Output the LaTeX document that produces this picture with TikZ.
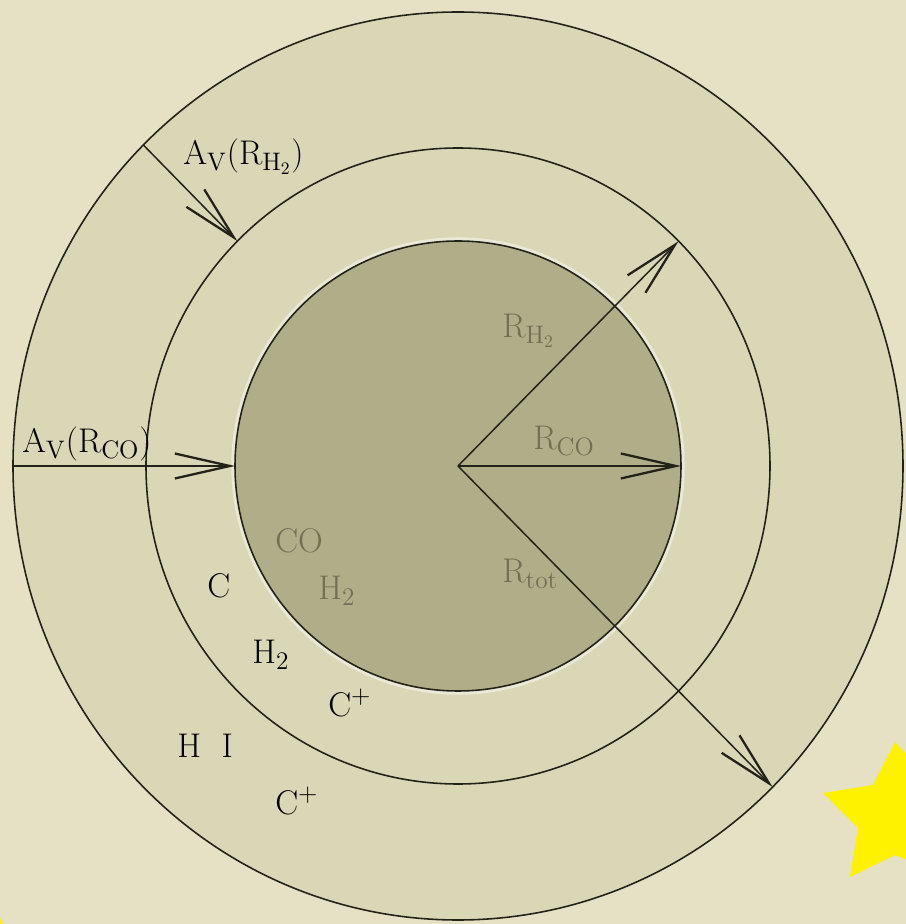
\documentclass[tikz,border=0pt]{standalone}
\usepackage{amsmath}
\usetikzlibrary{arrows.meta, calc}
\definecolor{fondo}{RGB}{230,224,196}
\definecolor{anillo}{RGB}{217,215,182}
\definecolor{nucleo}{RGB}{176,174,136}
\definecolor{tinta}{RGB}{34,34,24}
\definecolor{gris}{RGB}{112,112,84}

\begin{document}
\begin{tikzpicture}[x=0.02cm, y=0.02cm,
    borde/.style={tinta, line width=0.9pt},
    flecha/.style={tinta, line width=0.85pt,
        -{Straight Barb[length=1.1cm, width=0.5cm, line width=1.3pt]}},
    etiq/.style={anchor=base west, inner sep=0pt, font=\fontsize{19.5}{23}\selectfont},
]
    \useasboundingbox (0,0) rectangle (906,924);
    \clip (0,0) rectangle (906,924);
    \fill[fondo] (0,0) rectangle (906,924);
    % Estrellas
    \fill[yellow] (895,182) -- (873,139) -- (823,131) -- (858,96) -- (850,47)
        -- (895,69) -- (955,44) -- (940,94) -- (990,129) -- (935,139) -- cycle;
    \fill[yellow] (-8,-8) -- (4,-2) -- (0,6) -- cycle;
    % Capas de la nube
    \coordinate (c) at (458,458);
    \filldraw[borde, fill=anillo] (c) ellipse [x radius=445, y radius=454];
    \filldraw[borde, fill=anillo] (c) ellipse [x radius=312, y radius=318];
    \draw[white!45!anillo, line width=2pt] (c) ellipse [x radius=225, y radius=227];
    \filldraw[borde, fill=nucleo] (c) ellipse [x radius=223, y radius=225];
    % Puntos sobre los bordes
    \coordinate (ext135) at ($(c)+(135:445 and 454)$);
    \coordinate (med135) at ($(c)+(135:312 and 318)$);
    \coordinate (med45)  at ($(c)+(45:312 and 318)$);
    \coordinate (ext180) at ($(c)+(180:445 and 454)$);
    \coordinate (nuc180) at ($(c)+(180:223 and 225)$);
    \coordinate (nuc0)   at ($(c)+(0:223 and 225)$);
    \coordinate (ext315) at ($(c)+(-45:445 and 454)$);
    % Flechas
    \draw[flecha] (ext135) -- (med135);
    \draw[flecha] (ext180) -- (nuc180);
    \draw[flecha] (c) -- (med45);
    \draw[flecha] (c) -- (nuc0);
    \draw[flecha] (c) -- (ext315);
    % Etiquetas
    \node[etiq] (avhdos) at (183,759) {A$_{\mathrm{V}}$(R$_{\mathrm{H_2}}$)};
    \node[etiq] (avco)   at (22,471)  {A$_{\mathrm{V}}$(R$_{\mathrm{CO}}$)};
    \node[etiq, gris] (rhdos) at (502,586) {R$_{\mathrm{H_2}}$};
    \node[etiq, gris] (rco)   at (533,474) {R$_{\mathrm{CO}}$};
    \node[etiq, gris] (rtot)  at (502,341) {R$_{\mathrm{tot}}$};
    \node[etiq, gris] (co)    at (275,371) {CO};
    \node[etiq, gris] (hdosin) at (318,324) {H$_2$};
    \node[etiq] (carb)    at (207,326) {C};
    \node[etiq] (hdosmed) at (252,260) {H$_2$};
    \node[etiq] (cmasmed) at (328,207) {C$^+$};
    \node[etiq] (hi)      at (177,166) {H\hspace{0.6em}I};
    \node[etiq] (cmasext) at (275,109) {C$^+$};
\end{tikzpicture}
\end{document}
